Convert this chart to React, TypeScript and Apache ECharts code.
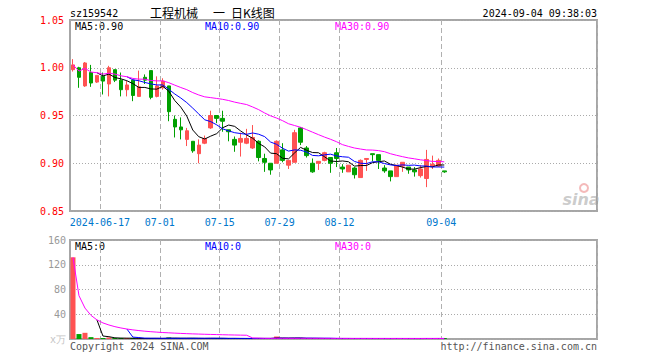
import React, { useEffect, useRef } from "react";
import * as echarts from "echarts";

const dates: string[] = [
  "2024-06-07", "2024-06-11", "2024-06-12", "2024-06-13", "2024-06-14",
  "2024-06-17", "2024-06-18", "2024-06-19", "2024-06-20", "2024-06-21",
  "2024-06-24", "2024-06-25", "2024-06-26", "2024-06-27", "2024-06-28",
  "2024-07-01", "2024-07-02", "2024-07-03", "2024-07-04", "2024-07-05",
  "2024-07-08", "2024-07-09", "2024-07-10", "2024-07-11", "2024-07-12",
  "2024-07-15", "2024-07-16", "2024-07-17", "2024-07-18", "2024-07-19",
  "2024-07-22", "2024-07-23", "2024-07-24", "2024-07-25", "2024-07-26",
  "2024-07-29", "2024-07-30", "2024-07-31", "2024-08-01", "2024-08-02",
  "2024-08-05", "2024-08-06", "2024-08-07", "2024-08-08", "2024-08-09",
  "2024-08-12", "2024-08-13", "2024-08-14", "2024-08-15", "2024-08-16",
  "2024-08-19", "2024-08-20", "2024-08-21", "2024-08-22", "2024-08-23",
  "2024-08-26", "2024-08-27", "2024-08-28", "2024-08-29", "2024-08-30",
  "2024-09-02", "2024-09-03", "2024-09-04",
];

const opens: number[] = [
  0.998, 1.0, 0.981, 0.995, 0.985, 0.991, 0.983, 0.998, 0.987, 0.977,
  0.987, 0.97, 0.99, 0.997, 0.97, 0.979, 0.981, 0.946, 0.938, 0.925,
  0.923, 0.91, 0.921, 0.937, 0.95, 0.947, 0.935, 0.925, 0.922, 0.921,
  0.916, 0.923, 0.905, 0.9, 0.9, 0.914, 0.898, 0.901, 0.937, 0.916,
  0.9, 0.9, 0.903, 0.906, 0.911, 0.896, 0.891, 0.895, 0.885, 0.904,
  0.91, 0.909, 0.895, 0.892, 0.886, 0.897, 0.896, 0.893, 0.887, 0.884,
  0.897, 0.897, 0.892,
];
const closes: number[] = [
  1.003, 0.99, 1.005, 0.984, 0.992, 0.986, 1.0, 0.987, 0.977, 0.982,
  0.971, 0.98, 0.987, 0.969, 0.981, 0.986, 0.954, 0.938, 0.935, 0.934,
  0.913, 0.919, 0.926, 0.95, 0.947, 0.944, 0.933, 0.919, 0.926, 0.926,
  0.927, 0.906, 0.901, 0.893, 0.923, 0.903, 0.903, 0.932, 0.922, 0.908,
  0.891, 0.902, 0.911, 0.9, 0.905, 0.894, 0.898, 0.888, 0.903, 0.905,
  0.909, 0.903, 0.892, 0.886, 0.898, 0.901, 0.893, 0.891, 0.894, 0.904,
  0.899, 0.903, 0.891,
];
const lows: number[] = [
  0.996, 0.979, 0.98, 0.98, 0.984, 0.972, 0.97, 0.985, 0.97, 0.97,
  0.965, 0.97, 0.983, 0.967, 0.969, 0.977, 0.944, 0.927, 0.925, 0.918,
  0.911, 0.9, 0.92, 0.936, 0.942, 0.933, 0.923, 0.912, 0.907, 0.92,
  0.915, 0.902, 0.891, 0.888, 0.9, 0.901, 0.894, 0.901, 0.919, 0.906,
  0.89, 0.893, 0.902, 0.89, 0.896, 0.89, 0.891, 0.884, 0.885, 0.892,
  0.902, 0.894, 0.89, 0.881, 0.886, 0.891, 0.889, 0.886, 0.885, 0.875,
  0.894, 0.896, 0.89,
];
const highs: number[] = [
  1.009, 1.001, 1.006, 1.003, 0.992, 0.995, 1.002, 0.998, 0.995, 0.986,
  0.987, 0.997, 0.993, 0.997, 0.991, 0.989, 0.981, 0.95, 0.948, 0.937,
  0.923, 0.925, 0.929, 0.955, 0.95, 0.955, 0.935, 0.928, 0.932, 0.936,
  0.94, 0.924, 0.91, 0.9, 0.924, 0.921, 0.903, 0.935, 0.938, 0.918,
  0.905, 0.902, 0.912, 0.906, 0.916, 0.899, 0.898, 0.896, 0.904, 0.905,
  0.91, 0.909, 0.898, 0.892, 0.898, 0.901, 0.896, 0.896, 0.898, 0.914,
  0.908, 0.905, 0.892,
];
// volume in 万
const volumes: number[] = [
  132, 8, 10, 3, 1.5, 1.5, 2.5, 1, 1, 0.8,
  1.2, 0.8, 0.6, 1.5, 1, 0.8, 2.5, 1.2, 0.8, 0.9,
  1.2, 1.4, 0.6, 1.5, 0.8, 1, 0.7, 0.9, 0.8, 0.6,
  0.9, 1.3, 0.8, 1, 4, 1.2, 0.6, 1.6, 1.2, 0.8,
  0.9, 0.5, 0.7, 0.8, 0.9, 0.5, 0.7, 0.8, 1.2, 0.6,
  0.5, 0.8, 0.6, 0.9, 1, 0.6, 0.5, 0.6, 0.8, 1.5,
  0.6, 0.7, 0.2,
];

const tickDates: string[] = ["2024-06-17", "2024-07-01", "2024-07-15", "2024-07-29", "2024-08-12", "2024-09-04"];
const tickLabels: string[] = ["2024-06-17", "07-01", "07-15", "07-29", "08-12", "09-04"];

const TOTAL_SLOTS = 88;
const MONO = "'DejaVu Sans Mono', monospace";
const CJK = "'Noto Sans CJK SC'";
const RED = "#ff5252";
const GREEN = "#00a000";

function movingAverage(values: number[], n: number, partialStart: boolean): (number | null)[] {
  return values.map((_, i) => {
    if (i < n - 1 && !partialStart) return null;
    const from = Math.max(0, i - n + 1);
    const slice = values.slice(from, i + 1);
    return slice.reduce((a, b) => a + b, 0) / slice.length;
  });
}

export default function App() {
  const ref = useRef<HTMLDivElement>(null);

  useEffect(() => {
    if (!ref.current) return;
    const chart = echarts.init(ref.current, undefined, { renderer: "svg" });

    const categories = [
      ...dates,
      ...Array.from({ length: TOTAL_SLOTS - dates.length }, (_, i) => `future-${i}`),
    ];
    const kData = dates.map((_, i) => [opens[i], closes[i], lows[i], highs[i]]);
    const ma5 = movingAverage(closes, 5, false);
    const ma10 = movingAverage(closes, 10, false);
    const ma30 = movingAverage(closes, 30, true);
    const vma5 = movingAverage(volumes, 5, false);
    const vma10 = movingAverage(volumes, 10, false);
    const vma30 = movingAverage(volumes, 30, true);
    const last = (a: (number | null)[]) => a[a.length - 1] as number;

    const volData = volumes.map((v, i) => ({
      value: v,
      itemStyle: { color: closes[i] >= opens[i] ? RED : GREEN },
    }));

    const isTick = (_i: number, v: string) => tickDates.includes(v);
    const vSplit = {
      show: true,
      interval: isTick,
      lineStyle: { color: "#b0b0b0", type: [5, 3] as number[], width: 1 },
    };
    const hSplit = { show: true, lineStyle: { color: "#aaaaaa", type: [1, 2] as number[], width: 1 } };

    const maLine = (name: string, data: (number | null)[], color: string, xi: number, yi: number) => ({
      name,
      type: "line",
      xAxisIndex: xi,
      yAxisIndex: yi,
      data,
      showSymbol: false,
      symbol: "none",
      connectNulls: false,
      lineStyle: { color, width: 1 },
      itemStyle: { color },
      silent: true,
      z: 3,
    });

    const monoText = (text: string, x: number, y: number, fill: string, align = "left") => ({
      type: "text",
      x,
      y,
      style: { text, fill, font: `10px ${MONO}`, align, verticalAlign: "middle" },
    });
    const cjkText = (text: string, x: number) => ({
      type: "text",
      x,
      y: 12,
      style: { text, fill: "#000000", font: `12px ${CJK}`, align: "left", verticalAlign: "middle" },
    });

    const option: any = {
      animation: false,
      backgroundColor: "#ffffff",
      grid: [
        { left: 70, top: 20, width: 527, height: 191, show: true, borderColor: "#a6a6a6", borderWidth: 2, backgroundColor: "transparent" },
        { left: 70, top: 240, width: 527, height: 99, show: true, borderColor: "#a6a6a6", borderWidth: 2, backgroundColor: "transparent" },
      ],
      xAxis: [
        {
          type: "category",
          gridIndex: 0,
          data: categories,
          boundaryGap: true,
          axisLine: { show: false },
          axisTick: { show: false },
          axisLabel: {
            interval: isTick,
            formatter: (v: string) => tickLabels[tickDates.indexOf(v)] ?? "",
            color: "#0077cc",
            fontFamily: MONO,
            fontSize: 10,
            margin: 6,
            padding: [0, 6, 0, 0],
          },
          splitLine: vSplit,
        },
        {
          type: "category",
          gridIndex: 1,
          data: categories,
          boundaryGap: true,
          axisLine: { show: false },
          axisTick: { show: false },
          axisLabel: { show: false },
          splitLine: vSplit,
        },
      ],
      yAxis: [
        {
          type: "value",
          gridIndex: 0,
          min: 0.85,
          max: 1.05,
          interval: 0.05,
          axisLine: { show: false },
          axisTick: { show: false },
          axisLabel: {
            color: "#ff0000",
            fontFamily: MONO,
            fontSize: 10,
            margin: 6,
            formatter: (v: number) => v.toFixed(2),
          },
          splitLine: hSplit,
        },
        {
          type: "value",
          gridIndex: 1,
          min: 0,
          max: 160,
          interval: 40,
          axisLine: { show: false },
          axisTick: { show: false },
          axisLabel: {
            color: "#999999",
            fontFamily: MONO,
            fontSize: 10,
            margin: 4,
            formatter: (v: number) => (v === 0 ? "{u|x万}" : String(v)),
            rich: { u: { color: "#c4c4c4", fontSize: 10, fontFamily: MONO } },
          },
          splitLine: hSplit,
        },
      ],
      series: [
        {
          name: "K",
          type: "candlestick",
          xAxisIndex: 0,
          yAxisIndex: 0,
          data: kData,
          barWidth: 4,
          itemStyle: { color: RED, color0: GREEN, borderColor: RED, borderColor0: GREEN, borderWidth: 1 },
          z: 2,
        },
        maLine("MA5", ma5, "#000000", 0, 0),
        maLine("MA10", ma10, "#0000ff", 0, 0),
        maLine("MA30", ma30, "#ff00ff", 0, 0),
        {
          name: "VOL",
          type: "bar",
          xAxisIndex: 1,
          yAxisIndex: 1,
          data: volData,
          barWidth: 5,
          barMinHeight: 1,
          z: 2,
        },
        maLine("VMA5", vma5, "#000000", 1, 1),
        maLine("VMA10", vma10, "#0000ff", 1, 1),
        maLine("VMA30", vma30, "#ff00ff", 1, 1),
      ],
      graphic: [
        monoText("sz159542", 70, 13, "#000000"),
        cjkText("工程机械", 150),
        cjkText("一", 213),
        cjkText("日K线图", 231),
        monoText("2024-09-04 09:38:03", 597, 13, "#000000", "right"),
        monoText(`MA5:${last(ma5).toFixed(2)}`, 75, 26, "#000000"),
        monoText(`MA10:${last(ma10).toFixed(2)}`, 205, 26, "#0000ff"),
        monoText(`MA30:${last(ma30).toFixed(2)}`, 335, 26, "#ff00ff"),
        monoText(`MA5:${Math.floor(last(vma5))}`, 75, 246, "#000000"),
        monoText(`MA10:${Math.floor(last(vma10))}`, 205, 246, "#0000ff"),
        monoText(`MA30:${Math.floor(last(vma30))}`, 335, 246, "#ff00ff"),
        monoText("Copyright 2024 SINA.COM", 70, 346, "#555555"),
        monoText("http://finance.sina.com.cn", 597, 346, "#555555", "right"),
        {
          type: "circle",
          shape: { cx: 584, cy: 188, r: 4 },
          style: { fill: "none", stroke: "rgba(235,130,130,0.55)", lineWidth: 2 },
        },
        {
          type: "text",
          x: 581,
          y: 199,
          style: {
            text: "sina",
            fill: "rgba(160,160,160,0.55)",
            font: "italic bold 16px 'DejaVu Sans'",
            align: "center",
            verticalAlign: "middle",
          },
        },
      ],
    };

    chart.setOption(option);
    return () => chart.dispose();
  }, []);

  return (
    <div
      ref={ref}
      style={{ position: "absolute", left: 0, top: 0, width: 660, height: 360, background: "#fff" }}
    />
  );
}
